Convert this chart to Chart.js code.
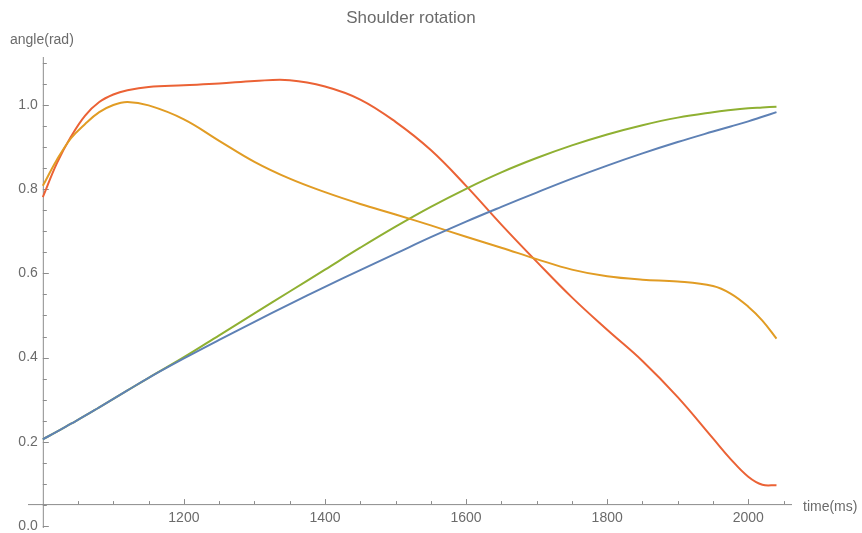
<!DOCTYPE html>
<html>
<head>
<meta charset="utf-8">
<script src="https://cdn.jsdelivr.net/npm/chart.js@4.4.0/dist/chart.umd.min.js"></script>
<style>
  body { margin: 0; background: #fff; }
  canvas { display: block; }
</style>
</head>
<body>
<canvas id="shoulderChart" width="862" height="533"></canvas>
<script>
// time samples (ms)
const times = [1000, 1020, 1040, 1060, 1080, 1100, 1120, 1150, 1200, 1250, 1300, 1350, 1400, 1450,
               1500, 1550, 1600, 1650, 1700, 1750, 1800, 1850, 1900, 1950, 1975, 2000, 2020, 2040];

// joint angles (rad)
const blueAngle = [0.206, 0.224, 0.243, 0.262, 0.282, 0.302, 0.322, 0.352, 0.398, 0.442, 0.485, 0.527, 0.568, 0.608,
                   0.647, 0.686, 0.723, 0.758, 0.792, 0.825, 0.856, 0.885, 0.912, 0.937, 0.949, 0.961, 0.972, 0.983];
const orangeAngle = [0.808, 0.870, 0.921, 0.955, 0.983, 1.000, 1.007, 0.999, 0.966, 0.915, 0.865, 0.825, 0.793, 0.765,
                     0.740, 0.714, 0.687, 0.661, 0.634, 0.609, 0.593, 0.585, 0.581, 0.570, 0.552, 0.521, 0.488, 0.445];
const greenAngle = [0.206, 0.224, 0.243, 0.262, 0.282, 0.302, 0.322, 0.352, 0.401, 0.453, 0.505, 0.557, 0.609, 0.661,
                    0.711, 0.758, 0.801, 0.840, 0.874, 0.904, 0.930, 0.952, 0.970, 0.983, 0.988, 0.992, 0.994, 0.996];
const redAngle = [0.781, 0.862, 0.925, 0.975, 1.007, 1.025, 1.035, 1.043, 1.047, 1.051, 1.057, 1.059, 1.044, 1.013,
                  0.960, 0.893, 0.808, 0.716, 0.628, 0.543, 0.466, 0.392, 0.306, 0.208, 0.159, 0.117, 0.098, 0.097];

// axis ticks
const xMajorTicks = [1200, 1400, 1600, 1800, 2000];
const xMinorTicks = [1050, 1100, 1150, 1250, 1300, 1350, 1450, 1500, 1550, 1650, 1700, 1750, 1850, 1900, 1950, 2050];
const yMajorTicks = [0.0, 0.2, 0.4, 0.6, 0.8, 1.0];
const yMinorTicks = [0.05, 0.1, 0.15, 0.25, 0.3, 0.35, 0.45, 0.5, 0.55, 0.65, 0.7, 0.75, 0.85, 0.9, 0.95, 1.05, 1.1];

// where the axes cross
const xAxisAt = 0.052;
const yAxisAt = 1000;

const axisColor = '#8c8c8c';
const labelColor = '#6b6b6b';
const labelFont = '14px "Liberation Sans", Arial, sans-serif';

function toPoints(values) {
    return times.map((t, i) => ({ x: t, y: values[i] }));
}

function series(values, color) {
    return {
        data: toPoints(values),
        borderColor: color,
        borderWidth: 2,
        pointRadius: 0,
        fill: false,
        tension: 0.4,
        clip: false
    };
}

// Mathematica-style axes: crossing lines, inward ticks, labels at the ends
const axesPlugin = {
    id: 'crossAxes',
    beforeDatasetsDraw(chart) {
        const c = chart.ctx;
        const xs = chart.scales.x;
        const ys = chart.scales.y;
        const xLine = ys.getPixelForValue(xAxisAt);
        const yLine = xs.getPixelForValue(yAxisAt);

        c.save();
        c.strokeStyle = axisColor;
        c.lineWidth = 1;

        // x axis
        c.beginPath();
        c.moveTo(xs.left, xLine + 0.5);
        c.lineTo(xs.right, xLine + 0.5);
        // y axis
        c.moveTo(yLine + 0.5, ys.bottom + 2);
        c.lineTo(yLine + 0.5, ys.top);
        c.stroke();

        c.beginPath();
        xMajorTicks.forEach(v => {
            const p = Math.round(xs.getPixelForValue(v)) + 0.5;
            c.moveTo(p, xLine);
            c.lineTo(p, xLine - 5);
        });
        xMinorTicks.forEach(v => {
            const p = Math.round(xs.getPixelForValue(v)) + 0.5;
            c.moveTo(p, xLine);
            c.lineTo(p, xLine - 3);
        });
        yMajorTicks.forEach(v => {
            const p = Math.round(ys.getPixelForValue(v)) + 0.5;
            c.moveTo(yLine, p);
            c.lineTo(yLine + 6, p);
        });
        yMinorTicks.forEach(v => {
            const p = Math.round(ys.getPixelForValue(v)) + 0.5;
            c.moveTo(yLine, p);
            c.lineTo(yLine + 4, p);
        });
        c.stroke();

        // tick labels
        c.fillStyle = labelColor;
        c.font = labelFont;
        c.textAlign = 'center';
        c.textBaseline = 'middle';
        xMajorTicks.forEach(v => {
            c.fillText(String(v), xs.getPixelForValue(v), xLine + 14);
        });
        c.textAlign = 'right';
        yMajorTicks.forEach(v => {
            c.fillText(v.toFixed(1), yLine - 5, ys.getPixelForValue(v));
        });

        // axis names
        c.textAlign = 'left';
        c.fillText('time(ms)', xs.right + 11, xLine + 3);
        c.fillText('angle(rad)', 10, ys.top - 17);

        // title
        c.textAlign = 'center';
        c.font = '17px "Liberation Sans", Arial, sans-serif';
        c.fillText('Shoulder rotation', 411, 18);
        c.restore();
    }
};

const ctx = document.getElementById('shoulderChart').getContext('2d');

const shoulderChart = new Chart(ctx, {
    type: 'line',
    data: {
        datasets: [
            series(blueAngle, '#5e81b5'),
            series(orangeAngle, '#e19c24'),
            series(greenAngle, '#8fb032'),
            series(redAngle, '#eb6235')
        ]
    },
    options: {
        responsive: false,
        animation: false,
        layout: {
            padding: { left: 28, right: 70, top: 57, bottom: 7 }
        },
        plugins: {
            legend: { display: false },
            tooltip: { enabled: false }
        },
        scales: {
            x: { type: 'linear', min: 979, max: 2062, display: false },
            y: { type: 'linear', min: 0, max: 1.114, display: false }
        }
    },
    plugins: [axesPlugin]
});
</script>
</body>
</html>
